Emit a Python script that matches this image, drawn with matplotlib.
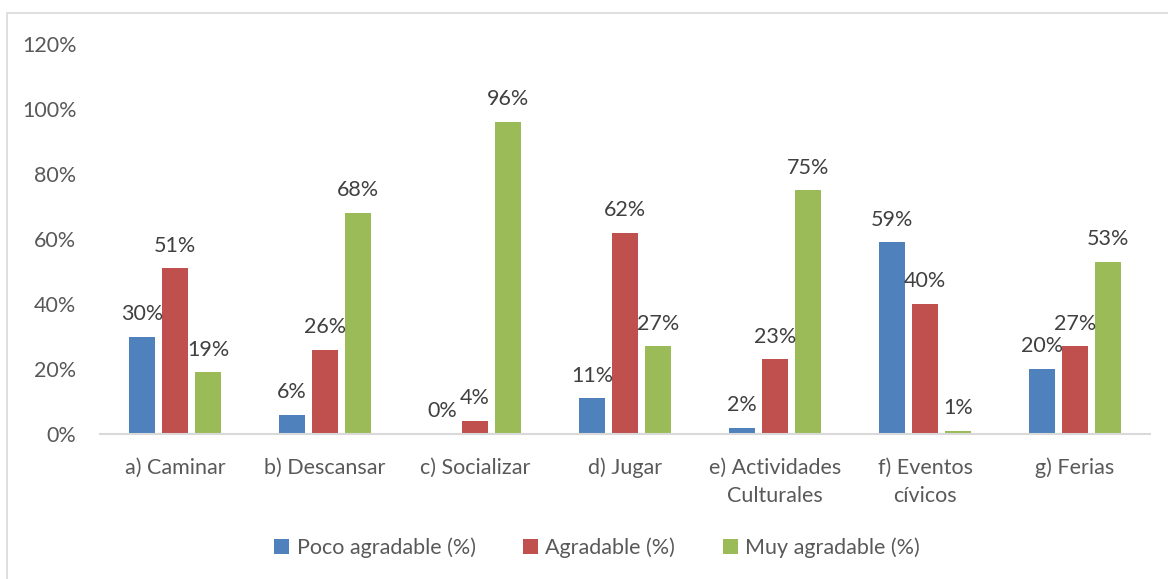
import numpy as np
import matplotlib
matplotlib.use("Agg")
import matplotlib.pyplot as plt
from matplotlib.patches import Rectangle

plt.rcParams['font.family'] = ['Lato', 'DejaVu Sans']

# data
categories = ["a) Caminar", "b) Descansar", "c) Socializar", "d) Jugar",
              "e) Actividades\nCulturales", "f) Eventos\ncívicos", "g) Ferias"]
poco = [30, 6, 0, 11, 2, 59, 20]
agradable = [51, 26, 4, 62, 23, 40, 27]
muy = [19, 68, 96, 27, 75, 1, 53]

series = [("Poco agradable (%)", poco, "#4F81BD"),
          ("Agradable (%)", agradable, "#C0504D"),
          ("Muy agradable (%)", muy, "#9BBB59")]

FS = 15.5

fig = plt.figure(figsize=(11.68, 5.79), dpi=100)
ax = fig.add_axes([100/1168, 1 - 434/579, (1150 - 100)/1168, (434 - 44)/579])

# outer chart border (light gray)
fig.patches.append(Rectangle((7/1168, -0.1), 1.2, 1 - 13/579 + 0.1,
                             transform=fig.transFigure, fill=False,
                             edgecolor="#d9d9d9", linewidth=1.2))

x = np.arange(len(categories))
w = 0.175
step = 0.22
for i, (name, vals, col) in enumerate(series):
    pos = x + (i - 1) * step
    vals = np.array(vals) / 100
    ax.bar(pos, vals, width=w, color=col, label=name, zorder=2)
    for p, v in zip(pos, vals):
        ax.annotate(f"{v*100:.0f}%", (p, v), xytext=(0, 12), textcoords="offset points",
                    ha="center", va="baseline", fontsize=FS, color="#404040")

ax.set_xlim(-0.5, len(categories) - 0.5)
ax.set_ylim(0, 1.2)
ax.set_yticks(np.arange(0, 1.21, 0.2))
ax.set_yticklabels([f"{t}%" for t in range(0, 121, 20)])
ax.set_xticks(x)
ax.set_xticklabels(categories, linespacing=1.5)
ax.tick_params(axis="both", length=0, labelsize=FS, colors="#595959")
ax.tick_params(axis="x", pad=17)
ax.tick_params(axis="y", pad=17)
for s in ["top", "right", "left"]:
    ax.spines[s].set_visible(False)
ax.spines["bottom"].set_color("#d9d9d9")
ax.spines["bottom"].set_linewidth(1.5)

leg = fig.legend(loc="center", bbox_to_anchor=(597/1168, 1 - 548/579), ncol=3,
                 frameon=False, fontsize=FS, handlelength=0.7, handleheight=0.7,
                 handletextpad=0.35, columnspacing=2.2)
for t in leg.get_texts():
    t.set_color("#595959")

fig.savefig("out.png", dpi=100)
